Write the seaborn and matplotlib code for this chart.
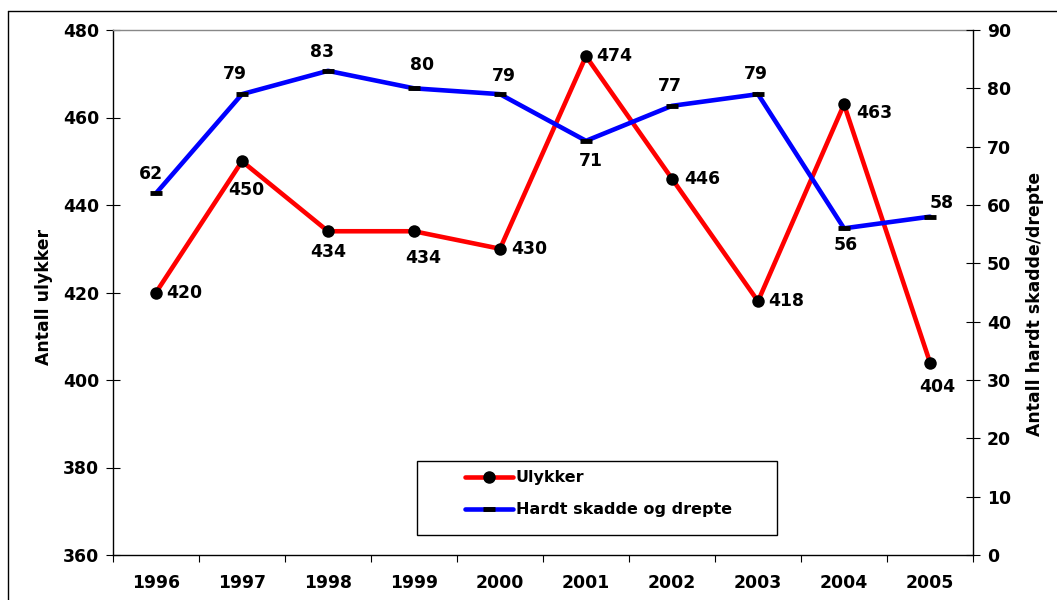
import numpy as np
import pandas as pd
import matplotlib
matplotlib.use("Agg")
import matplotlib.pyplot as plt
from matplotlib.lines import Line2D
from matplotlib.patches import Rectangle
import seaborn as sns

# ---- data ----
years = ['1996', '1997', '1998', '1999', '2000', '2001', '2002', '2003', '2004', '2005']
ulykker = [420, 450, 434, 434, 430, 474, 446, 418, 463, 404]
hardt = [62, 79, 83, 80, 79, 71, 77, 79, 56, 58]
left_ticks = [360, 380, 400, 420, 440, 460, 480]
right_ticks = [0, 10, 20, 30, 40, 50, 60, 70, 80, 90]

# label offsets (pixels: dx, dy down-positive) – style only
red_off = [(28, 0), (4, 29), (0, 21), (9, 27), (29, 0), (28, 0), (30, 0), (28, 0), (30, 9), (7, 24)]
blue_off = [(-5, -19), (-7, -20), (-6, -19), (8, -23), (4, -18), (5, 20), (-2, -20), (-2, -20), (2, 17), (12, -14)]

sns.set_theme(style="white")
plt.rcParams['font.family'] = ['DejaVu Sans']
plt.rcParams['font.weight'] = 'bold'
for k in ('text.color', 'axes.labelcolor', 'xtick.color', 'ytick.color'):
    plt.rcParams[k] = 'black'
FS = 12.4
LFS = 11.5

W, H = 1057, 600
fig = plt.figure(figsize=(W / 100, H / 100), dpi=100)
ax = fig.add_axes([113 / W, 1 - 555 / H, (973 - 113) / W, (555 - 30) / H])
ax2 = ax.twinx()

df = pd.DataFrame({'x': np.arange(len(years)), 'ulykker': ulykker, 'hardt': hardt})

sns.lineplot(data=df, x='x', y='ulykker', ax=ax, color='#ff0000', lw=3.3,
             marker='o', markersize=9, markerfacecolor='black',
             markeredgecolor='black', markeredgewidth=0, legend=False)
sns.lineplot(data=df, x='x', y='hardt', ax=ax2, color='#0000ff', lw=3.3,
             marker='_', markersize=9, markeredgecolor='black',
             markeredgewidth=3.5, legend=False)

ax.set_xlim(-0.5, len(years) - 0.5)
ax.set_ylim(360, 480)
ax2.set_ylim(0, 90)
ax.set_yticks(left_ticks)
ax2.set_yticks(right_ticks)
ax.set_xticks(np.arange(len(years)))
ax.set_xticklabels(years)
ax.set_xticks(np.arange(-0.5, len(years)), minor=True)

for a in (ax, ax2):
    a.set_xlabel('')
    for s in a.spines.values():
        s.set_visible(False)
ax.spines['left'].set_visible(True)
ax.spines['bottom'].set_visible(True)
ax.spines['top'].set_visible(True)
ax2.spines['right'].set_visible(True)
for s in ('left', 'bottom'):
    ax.spines[s].set_color('black')
    ax.spines[s].set_linewidth(1.0)
ax.spines['top'].set_color('#888888')
ax.spines['top'].set_linewidth(1.0)
ax2.spines['right'].set_color('black')
ax2.spines['right'].set_linewidth(1.0)

ax.tick_params(axis='y', direction='inout', length=10, width=0.8, color='black',
               labelsize=FS, pad=5, left=True, labelcolor='black')
ax2.tick_params(axis='y', direction='inout', length=10, width=0.8, color='black',
                labelsize=FS, pad=5, right=True, labelcolor='black')
ax.tick_params(axis='x', which='major', length=0, labelsize=FS, pad=14, labelcolor='black')
ax.tick_params(axis='x', which='minor', direction='out', length=5, width=0.8,
               color='black', bottom=True)
for lab in ax.get_xticklabels() + ax.get_yticklabels() + ax2.get_yticklabels():
    lab.set_fontweight('bold')

ax.set_ylabel('Antall ulykker', fontsize=FS, fontweight='bold', color='black')
ax2.set_ylabel('Antall hardt skadde/drepte', fontsize=FS, fontweight='bold', color='black')
ax.yaxis.set_label_coords(-0.0698, (555 - 297) / 525)
ax2.yaxis.set_label_coords(1.0616, (555 - 304) / 525)

# data labels
px = 0.72
for i, v in enumerate(ulykker):
    dx, dy = red_off[i]
    ax.annotate(str(v), (i, v), xytext=(dx * px, -dy * px), textcoords='offset points',
                ha='center', va='center', fontsize=FS, fontweight='bold', color='black')
for i, v in enumerate(hardt):
    dx, dy = blue_off[i]
    ax2.annotate(str(v), (i, v), xytext=(dx * px, -dy * px), textcoords='offset points',
                 ha='center', va='center', fontsize=FS, fontweight='bold', color='black')

# legend
fig.patches.append(Rectangle((417 / W, 1 - 535 / H), (777 - 417) / W, (535 - 461) / H,
                             transform=fig.transFigure, fill=True, facecolor='white',
                             edgecolor='black', linewidth=1.0, zorder=5))
handles = [Line2D([], [], color='#ff0000', lw=3.3, marker='o', markersize=8,
                  markerfacecolor='black', markeredgecolor='black'),
           Line2D([], [], color='#0000ff', lw=3.3, marker='_', markersize=9,
                  markeredgecolor='black', markeredgewidth=3.5)]
leg = fig.legend(handles, ['Ulykker', 'Hardt skadde og drepte'], loc='upper left',
                 bbox_to_anchor=(459 / W, 1 - 464 / H), frameon=False,
                 prop={'size': LFS, 'weight': 'bold'}, handlelength=3.0,
                 handletextpad=0.15, labelspacing=1.05, borderaxespad=0)
leg.set_zorder(6)
for t in leg.get_texts():
    t.set_color('black')

# outer frame
fig.add_artist(Line2D([8 / W, 8 / W], [0, 1 - 11 / H], transform=fig.transFigure,
                      color='black', lw=1.0))
fig.add_artist(Line2D([8 / W, 1], [1 - 11 / H, 1 - 11 / H], transform=fig.transFigure,
                      color='black', lw=1.0))

fig.savefig('out.png', dpi=100)
